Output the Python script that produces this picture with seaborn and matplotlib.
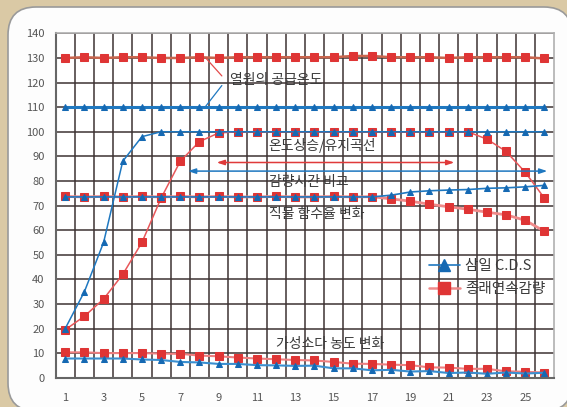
import matplotlib
matplotlib.use("Agg")
import matplotlib.pyplot as plt
from matplotlib.lines import Line2D
from matplotlib.patches import FancyBboxPatch
import seaborn as sns

days = list(range(1, 27))

# 열원의 공급온도
supply_red = [130, 130.3, 130, 130.3, 130.3, 130, 130, 130.3, 130, 130.3, 130.3, 130.3, 130.3,
              130.3, 130.3, 130.8, 130.8, 130.3, 130.3, 130.3, 130, 130.3, 130.3, 130.3, 130.3, 129.8]
supply_blue = [110, 110, 110, 110, 110, 110, 110, 110, 110, 110, 110, 110, 110,
               110, 110, 110, 110, 110, 110, 110, 110, 110, 110, 110, 110, 110]

# 온도상승/유지곡선
rise_red = [19.5, 25, 32, 42, 55, 73, 88, 96, 99.5, 100, 100, 100, 100,
            100, 100, 100, 100, 100, 100, 100, 100, 100, 97, 92, 83.5, 73]
rise_blue = [20, 35, 55, 88, 98, 100, 100, 100, 100, 100, 100, 100, 100,
             100, 100, 100, 100, 100, 100, 100, 100, 100, 100, 100, 100, 100]

# 직물 함수율 변화
moist_red = [73.7, 73.5, 73.7, 73.5, 73.7, 73.5, 73.7, 73.5, 73.7, 73.5, 73.5, 73.7, 73.5,
             73.5, 73.7, 73.5, 73.6, 72.7, 71.8, 70.5, 69.5, 68.5, 67.3, 66.2, 64, 59.5]
moist_blue = [73.5, 73.5, 73.5, 73.5, 73.5, 73.5, 73.5, 73.5, 73.5, 73.5, 73.5, 73.5, 73.5,
              73.5, 73.5, 73.5, 73.5, 74.2, 75.5, 76, 76.3, 76.5, 77, 77.2, 77.6, 78.2]

# 가성소다 농도 변화
caustic_red = [10.3, 10.3, 10, 10, 10, 9.8, 9.7, 9, 8.7, 8.2, 7.8, 7.5, 7.2,
               7, 6.4, 5.7, 5.6, 5.3, 5.1, 4.2, 4.1, 3.6, 3.6, 2.6, 2.4, 2.1]
caustic_blue = [7.8, 7.8, 7.8, 7.8, 7.4, 7.2, 6.4, 6.2, 5.6, 5.6, 5.1, 5, 4.8,
                4.9, 3.8, 3.8, 3.0, 3.2, 2.5, 2.7, 1.9, 2.1, 1.6, 2.1, 1.7, 2.0]

x_ticks = [1, 3, 5, 7, 9, 11, 13, 15, 17, 19, 21, 23, 25]
y_ticks = [0, 10, 20, 30, 40, 50, 60, 70, 80, 90, 100, 110, 120, 130, 140]

series_labels = ["삼일 C.D.S", "종래연속감량"]

RED = "#df3535"
RED_LINE = "#e8575a"
BLUE = "#1569b3"
BLUE_LINE = "#1f78c0"
SQ = 5.2
TRI = 5.0

sns.set_style("white")
plt.rcParams["font.family"] = ["Noto Sans CJK KR", "DejaVu Sans"]

fig = plt.figure(figsize=(5.67, 4.07), dpi=100)
fig.patch.set_facecolor("#dac9a5")
panel = FancyBboxPatch((0.08, -0.04), 5.64, 4.04,
                       boxstyle="round,pad=0,rounding_size=0.28",
                       transform=fig.dpi_scale_trans, facecolor="#fdfdfd",
                       edgecolor="#9a9a9a", linewidth=1.2, zorder=-5)
fig.patches.append(panel)

ax = fig.add_axes([0.0982, 0.072, 0.8789, 0.846])
ax.set_zorder(2)
ax.set_facecolor("white")

# red first, blue on top
sns.lineplot(x=days, y=supply_red, ax=ax, color="#c9664e", linewidth=1.8,
             marker="s", markersize=SQ, markerfacecolor=RED, markeredgecolor=RED, legend=False)
sns.lineplot(x=days, y=rise_red, ax=ax, color=RED_LINE, linewidth=1.1,
             marker="s", markersize=SQ, markerfacecolor=RED, markeredgecolor=RED, legend=False)
sns.lineplot(x=days, y=moist_red, ax=ax, color="#ef8a8a", linewidth=2.0,
             marker="s", markersize=SQ, markerfacecolor=RED, markeredgecolor=RED, legend=False)
sns.lineplot(x=days, y=caustic_red, ax=ax, color="#ef7f80", linewidth=1.5,
             marker="s", markersize=SQ, markerfacecolor=RED, markeredgecolor=RED, legend=False)

sns.lineplot(x=days, y=supply_blue, ax=ax, color=BLUE_LINE, linewidth=2.2,
             marker="^", markersize=TRI, markerfacecolor=BLUE, markeredgecolor=BLUE, legend=False)
sns.lineplot(x=days, y=rise_blue, ax=ax, color=BLUE_LINE, linewidth=1.1,
             marker="^", markersize=TRI, markerfacecolor=BLUE, markeredgecolor=BLUE, legend=False)
sns.lineplot(x=days, y=moist_blue, ax=ax, color=BLUE_LINE, linewidth=1.2,
             marker="^", markersize=TRI, markerfacecolor=BLUE, markeredgecolor=BLUE, legend=False)
sns.lineplot(x=days, y=caustic_blue, ax=ax, color="#3a8fd0", linewidth=1.5,
             marker="^", markersize=TRI, markerfacecolor=BLUE, markeredgecolor=BLUE, legend=False)

ax.set_xlim(0.5, 26.5)
ax.set_ylim(0, 140)
ax.set_xticks(x_ticks)
ax.set_xticks([d + 0.5 for d in days[:-1]], minor=True)
ax.set_yticks(y_ticks)
ax.grid(True, which="minor", axis="x", color="#3d3333", linewidth=1.1)
ax.grid(True, which="major", axis="y", color="#3d3333", linewidth=1.1)
ax.set_axisbelow(True)
ax.tick_params(which="both", length=0, labelsize=8, colors="#555555")
ax.tick_params(axis="x", pad=11)
ax.tick_params(axis="y", pad=8)
for side in ["top", "right"]:
    ax.spines[side].set_color("#b0b0b0")
    ax.spines[side].set_linewidth(1.2)
for side in ["left", "bottom"]:
    ax.spines[side].set_color("#666666")
    ax.spines[side].set_linewidth(1.5)
ax.set_xlabel("")
ax.set_ylabel("")

# annotations
ax.plot([8.33, 9.17], [130, 122.7], color="#e34b4b", linewidth=0.9)
ax.plot([8.33, 9.17], [110.4, 118.8], color="#1f78c0", linewidth=0.9)
txt = dict(fontsize=10, color="#3a3a3a", va="center", ha="left")
ax.text(9.6, 121, "열원의 공급온도", **txt)
ax.text(11.57, 94.6, "온도상승/유지곡선", **txt)
ax.text(11.64, 79.6, "감량시간 비교", **txt)
ax.text(11.64, 66.6, "직물 함수율 변화", **txt)
ax.text(12.0, 13.9, "가성소다 농도 변화", **txt)

ax.annotate("", xy=(8.9, 87.5), xytext=(21.3, 87.5),
            arrowprops=dict(arrowstyle="<|-|>,head_length=0.45,head_width=0.15",
                            color="#e03a3a", lw=1.1, shrinkA=0, shrinkB=0))
ax.annotate("", xy=(7.4, 84), xytext=(26.15, 84),
            arrowprops=dict(arrowstyle="<|-|>,head_length=0.45,head_width=0.15",
                            color="#1f78c0", lw=1.1, shrinkA=0, shrinkB=0))

handles = [
    Line2D([], [], color=BLUE_LINE, linewidth=1.2, marker="^", markersize=8,
           markerfacecolor=BLUE, markeredgecolor=BLUE),
    Line2D([], [], color="#ef8a8a", linewidth=1.8, marker="s", markersize=8,
           markerfacecolor=RED, markeredgecolor=RED),
]
ax.legend(handles, series_labels, loc="upper left", bbox_to_anchor=(0.749, 0.345),
          frameon=False, fontsize=10.5, handlelength=2.1, handletextpad=0.4,
          labelspacing=0.65, borderpad=0, borderaxespad=0, labelcolor="#3a3a3a")

fig.savefig("out.png", dpi=100, facecolor=fig.get_facecolor())
